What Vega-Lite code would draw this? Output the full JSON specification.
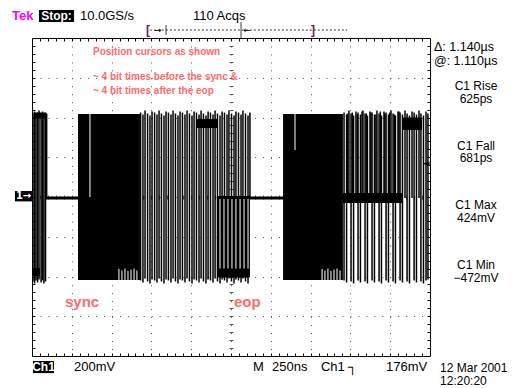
{
  "$schema": "https://vega.github.io/schema/vega-lite/v6.json",
  "width": 398,
  "height": 318,
  "autosize": {"type": "none"},
  "padding": {"left": 32, "top": 38, "right": 84, "bottom": 32},
  "background": "white",
  "config": {"view": {"stroke": "#000", "strokeWidth": 1}, "font": "Liberation Sans"},
  "resolve": {"axis": {"x": "independent", "y": "independent"}},
  "datasets": {
    "blocks": [
      {"t1": 0, "t2": 50, "v1": -357, "v2": -397},
      {"t1": 10, "t2": 85, "v1": 425, "v2": 395},
      {"t1": 289, "t2": 678, "v1": 418, "v2": -418},
      {"t1": 1030, "t2": 1162, "v1": 392, "v2": 347},
      {"t1": 1162, "t2": 1369, "v1": 5, "v2": -405},
      {"t1": 1577, "t2": 1953, "v1": 418, "v2": -418},
      {"t1": 2324, "t2": 2450, "v1": 400, "v2": 337},
      {"t1": 1953, "t2": 2330, "v1": 20, "v2": -30}
    ],
    "edges": [
      {"t": 6, "lo": -425, "hi": 420}, {"t": 16, "lo": -435, "hi": 430}, {"t": 25, "lo": -420, "hi": 415},
      {"t": 35, "lo": -430, "hi": 425}, {"t": 44, "lo": -415, "hi": 435}, {"t": 57, "lo": -430, "hi": 420},
      {"t": 66, "lo": -420, "hi": 430}, {"t": 75, "lo": -435, "hi": 415}, {"t": 85, "lo": -425, "hi": 425},
      {"t": 92, "lo": -5, "hi": 420},
      {"t": 682, "lo": -420, "hi": 425}, {"t": 697, "lo": -430, "hi": 415}, {"t": 710, "lo": -410, "hi": 435},
      {"t": 726, "lo": -425, "hi": 420}, {"t": 741, "lo": -435, "hi": 410}, {"t": 754, "lo": -415, "hi": 430},
      {"t": 770, "lo": -420, "hi": 425}, {"t": 785, "lo": -430, "hi": 415}, {"t": 798, "lo": -410, "hi": 435},
      {"t": 813, "lo": -425, "hi": 420}, {"t": 829, "lo": -435, "hi": 410}, {"t": 842, "lo": -415, "hi": 430},
      {"t": 857, "lo": -420, "hi": 425}, {"t": 873, "lo": -430, "hi": 415}, {"t": 886, "lo": -410, "hi": 435},
      {"t": 901, "lo": -425, "hi": 420}, {"t": 917, "lo": -435, "hi": 410}, {"t": 930, "lo": -415, "hi": 430},
      {"t": 945, "lo": -420, "hi": 425}, {"t": 961, "lo": -430, "hi": 415}, {"t": 974, "lo": -410, "hi": 435},
      {"t": 989, "lo": -425, "hi": 420}, {"t": 1005, "lo": -435, "hi": 410}, {"t": 1018, "lo": -415, "hi": 430},
      {"t": 1033, "lo": -420, "hi": 425}, {"t": 1049, "lo": -430, "hi": 415}, {"t": 1062, "lo": -410, "hi": 435},
      {"t": 1077, "lo": -425, "hi": 420}, {"t": 1093, "lo": -435, "hi": 410}, {"t": 1106, "lo": -415, "hi": 430},
      {"t": 1121, "lo": -420, "hi": 425}, {"t": 1137, "lo": -430, "hi": 415}, {"t": 1150, "lo": -410, "hi": 435},
      {"t": 1165, "lo": -425, "hi": 420}, {"t": 1181, "lo": -435, "hi": 410}, {"t": 1194, "lo": -415, "hi": 430},
      {"t": 1209, "lo": -420, "hi": 425}, {"t": 1225, "lo": -430, "hi": 415}, {"t": 1237, "lo": -410, "hi": 435},
      {"t": 1253, "lo": -425, "hi": 420}, {"t": 1269, "lo": -435, "hi": 410}, {"t": 1281, "lo": -415, "hi": 430},
      {"t": 1297, "lo": -420, "hi": 425}, {"t": 1313, "lo": -430, "hi": 415}, {"t": 1325, "lo": -410, "hi": 435},
      {"t": 1341, "lo": -425, "hi": 420}, {"t": 1357, "lo": -435, "hi": 410}, {"t": 1369, "lo": -5, "hi": 425},
      {"t": 1960, "lo": -420, "hi": 425}, {"t": 1976, "lo": -430, "hi": 415}, {"t": 1991, "lo": -5, "hi": 435},
      {"t": 2004, "lo": -425, "hi": 420}, {"t": 2020, "lo": -435, "hi": 410}, {"t": 2035, "lo": -5, "hi": 430},
      {"t": 2048, "lo": -420, "hi": 425}, {"t": 2063, "lo": -430, "hi": 415}, {"t": 2079, "lo": -5, "hi": 435},
      {"t": 2092, "lo": -425, "hi": 420}, {"t": 2107, "lo": -435, "hi": 410}, {"t": 2123, "lo": -5, "hi": 430},
      {"t": 2136, "lo": -420, "hi": 425}, {"t": 2151, "lo": -430, "hi": 415}, {"t": 2167, "lo": -5, "hi": 435},
      {"t": 2180, "lo": -425, "hi": 420}, {"t": 2195, "lo": -435, "hi": 410}, {"t": 2211, "lo": -5, "hi": 430},
      {"t": 2224, "lo": -420, "hi": 425}, {"t": 2239, "lo": -430, "hi": 415}, {"t": 2255, "lo": -5, "hi": 435},
      {"t": 2268, "lo": -425, "hi": 420}, {"t": 2283, "lo": -435, "hi": 410}, {"t": 2299, "lo": -5, "hi": 430},
      {"t": 2312, "lo": -420, "hi": 425}, {"t": 2327, "lo": -430, "hi": 415}, {"t": 2343, "lo": -5, "hi": 435},
      {"t": 2356, "lo": -425, "hi": 420}, {"t": 2371, "lo": -435, "hi": 410}, {"t": 2387, "lo": -5, "hi": 430},
      {"t": 2400, "lo": -420, "hi": 425}, {"t": 2415, "lo": -430, "hi": 415}, {"t": 2431, "lo": -5, "hi": 435},
      {"t": 2443, "lo": -425, "hi": 420}, {"t": 2459, "lo": -435, "hi": 410}, {"t": 2475, "lo": -420, "hi": 430},
      {"t": 2487, "lo": -415, "hi": 420},
      {"t": 1983, "lo": -5, "hi": 420}, {"t": 2012, "lo": -5, "hi": 425}, {"t": 2043, "lo": -5, "hi": 415},
      {"t": 2073, "lo": -5, "hi": 430}, {"t": 2100, "lo": -5, "hi": 420}, {"t": 2129, "lo": -5, "hi": 425},
      {"t": 2160, "lo": -5, "hi": 415}, {"t": 2188, "lo": -5, "hi": 430}, {"t": 2217, "lo": -5, "hi": 420},
      {"t": 2247, "lo": -5, "hi": 425}, {"t": 2276, "lo": -5, "hi": 415}, {"t": 2305, "lo": -5, "hi": 430}
    ],
    "flats": [
      {"t1": 88, "t2": 292, "v": -5},
      {"t1": 1369, "t2": 1580, "v": -5}
    ],
    "gaps": [
      {"t": 364, "lo": 0, "hi": 418},
      {"t": 546, "lo": -425, "hi": -362}, {"t": 565, "lo": -425, "hi": -370}, {"t": 584, "lo": -425, "hi": -360},
      {"t": 603, "lo": -425, "hi": -372}, {"t": 622, "lo": -425, "hi": -365}, {"t": 641, "lo": -425, "hi": -360},
      {"t": 659, "lo": -425, "hi": -370},
      {"t": 1181, "lo": -360, "hi": -10}, {"t": 1206, "lo": -360, "hi": -10}, {"t": 1231, "lo": -360, "hi": -10},
      {"t": 1256, "lo": -360, "hi": -10}, {"t": 1281, "lo": -360, "hi": -10}, {"t": 1307, "lo": -360, "hi": -10},
      {"t": 1332, "lo": -360, "hi": -10}, {"t": 1357, "lo": -360, "hi": -10},
      {"t": 1652, "lo": 236, "hi": 418},
      {"t": 1822, "lo": -425, "hi": -362}, {"t": 1840, "lo": -425, "hi": -370}, {"t": 1859, "lo": -425, "hi": -360},
      {"t": 1878, "lo": -425, "hi": -372}, {"t": 1897, "lo": -425, "hi": -365}, {"t": 1916, "lo": -425, "hi": -360},
      {"t": 1935, "lo": -425, "hi": -370}
    ],
    "header_lines": [
      {"t1": 740, "t2": 1980, "v1": 840, "v2": 840, "kind": "dotted"},
      {"t1": 1313, "t2": 1313, "v1": 880, "v2": 800, "kind": "solid"},
      {"t1": 842, "t2": 842, "v1": 865, "v2": 815, "kind": "solid"}
    ],
    "boxes": [
      {"t1": 44, "t2": 264, "v1": 941, "v2": 880},
      {"t1": 6, "t2": 138, "v1": -825, "v2": -886},
      {"t1": -107, "t2": 0, "v1": 30, "v2": -22}
    ],
    "inverse": [
      {"t": 154, "v": 911, "label": "Stop:"},
      {"t": 72, "v": -855, "label": "Ch1"}
    ],
    "plain_left": [
      {"t": 301, "v": 911, "label": "10.0GS/s"},
      {"t": 1011, "v": 911, "label": "110 Acqs"},
      {"t": 264, "v": -855, "label": "200mV"},
      {"t": 1388, "v": -855, "label": "M"},
      {"t": 1508, "v": -855, "label": "250ns"},
      {"t": 1815, "v": -855, "label": "Ch1"},
      {"t": 1985, "v": -855, "label": "┐"},
      {"t": 2224, "v": -855, "label": "176mV"}
    ],
    "readout": [
      {"t": 2525, "v": 757, "label": "Δ: 1.140µs"},
      {"t": 2525, "v": 684, "label": "@: 1.110µs"}
    ],
    "date": [
      {"t": 2563, "v": -860, "label": "12 Mar 2001"},
      {"t": 2563, "v": -926, "label": "12:20:20"}
    ],
    "panel": [
      {"t": 2789, "v": 560, "label": "C1 Rise"},
      {"t": 2789, "v": 491, "label": "625ps"},
      {"t": 2789, "v": 259, "label": "C1 Fall"},
      {"t": 2789, "v": 194, "label": "681ps"},
      {"t": 2789, "v": -38, "label": "C1 Max"},
      {"t": 2789, "v": -106, "label": "424mV"},
      {"t": 2789, "v": -340, "label": "C1 Min"},
      {"t": 2789, "v": -408, "label": "−472mV"}
    ],
    "brackets": [
      {"t": 729, "v": 840, "label": "["},
      {"t": 1765, "v": 840, "label": "]"}
    ],
    "arrows": [
      {"t": 790, "v": 842, "label": "→"},
      {"t": 1350, "v": 842, "label": "←"},
      {"t": 2475, "v": 171, "label": "◄"}
    ],
    "notes": [
      {"t": 383, "v": 730, "label": "Position cursors as shown"},
      {"t": 383, "v": 604, "label": "~ 4 bit times before the sync &"},
      {"t": 383, "v": 535, "label": "~ 4 bit times after the eop"}
    ],
    "marks": [
      {"t": 207, "v": -530, "label": "sync"},
      {"t": 1269, "v": -530, "label": "eop"}
    ]
  },
  "layer": [
    {
      "data": {"name": "blocks"},
      "mark": {"type": "rect", "color": "#000"},
      "encoding": {
        "x": {"field": "t1", "type": "quantitative", "scale": {"domain": [0, 2500], "nice": false, "zero": false},
          "axis": {"orient": "bottom", "values": [250, 500, 750, 1000, 1250, 1500, 1750, 2000, 2250], "grid": true, "gridDash": [1, 6.96], "gridColor": "#555", "gridOpacity": 1, "ticks": false, "labels": false, "domain": false, "title": null}},
        "x2": {"field": "t2"},
        "y": {"field": "v1", "type": "quantitative", "scale": {"domain": [-800, 800], "nice": false, "zero": false},
          "axis": {"orient": "left", "values": [-600, -400, -200, 0, 200, 400, 600], "grid": true, "gridDash": [1, 6.95], "gridColor": "#555", "gridOpacity": 1, "ticks": false, "labels": false, "domain": false, "title": null}},
        "y2": {"field": "v2"}
      }
    },
    {
      "data": {"name": "edges"},
      "mark": {"type": "rule", "color": "#000", "strokeWidth": 1.5},
      "encoding": {
        "x": {"field": "t", "type": "quantitative", "scale": {"domain": [0, 2500], "nice": false, "zero": false},
          "axis": {"orient": "bottom", "offset": -3, "values": [50,100,150,200,250,300,350,400,450,500,550,600,650,700,750,800,850,900,950,1000,1050,1100,1150,1200,1250,1300,1350,1400,1450,1500,1550,1600,1650,1700,1750,1800,1850,1900,1950,2000,2050,2100,2150,2200,2250,2300,2350,2400,2450], "ticks": true, "tickSize": 3, "tickColor": "#000", "labels": false, "domain": false, "grid": false, "title": null}},
        "y": {"field": "lo", "type": "quantitative", "scale": {"domain": [-800, 800], "nice": false, "zero": false},
          "axis": {"orient": "left", "offset": -3, "values": [-760,-720,-680,-640,-600,-560,-520,-480,-440,-400,-360,-320,-280,-240,-200,-160,-120,-80,-40,0,40,80,120,160,200,240,280,320,360,400,440,480,520,560,600,640,680,720,760], "ticks": true, "tickSize": 3, "tickColor": "#000", "labels": false, "domain": false, "grid": false, "title": null}},
        "y2": {"field": "hi"}
      }
    },
    {
      "data": {"name": "flats"},
      "mark": {"type": "rule", "color": "#000", "strokeWidth": 3},
      "encoding": {
        "x": {"field": "t1", "type": "quantitative", "scale": {"domain": [0, 2500], "nice": false, "zero": false},
          "axis": {"orient": "top", "offset": -3, "values": [50,100,150,200,250,300,350,400,450,500,550,600,650,700,750,800,850,900,950,1000,1050,1100,1150,1200,1250,1300,1350,1400,1450,1500,1550,1600,1650,1700,1750,1800,1850,1900,1950,2000,2050,2100,2150,2200,2250,2300,2350,2400,2450], "ticks": true, "tickSize": 3, "tickColor": "#000", "labels": false, "domain": false, "grid": false, "title": null}},
        "x2": {"field": "t2"},
        "y": {"field": "v", "type": "quantitative", "scale": {"domain": [-800, 800], "nice": false, "zero": false},
          "axis": {"orient": "right", "offset": -3, "values": [-760,-720,-680,-640,-600,-560,-520,-480,-440,-400,-360,-320,-280,-240,-200,-160,-120,-80,-40,0,40,80,120,160,200,240,280,320,360,400,440,480,520,560,600,640,680,720,760], "ticks": true, "tickSize": 3, "tickColor": "#000", "labels": false, "domain": false, "grid": false, "title": null}}
      }
    },
    {
      "data": {"name": "gaps"},
      "mark": {"type": "rule", "color": "#fff", "strokeWidth": 1},
      "encoding": {
        "x": {"field": "t", "type": "quantitative", "scale": {"domain": [0, 2500], "nice": false, "zero": false},
          "axis": {"orient": "bottom", "offset": -161, "values": [50,100,150,200,250,300,350,400,450,500,550,600,650,700,750,800,850,900,950,1000,1050,1100,1150,1200,1250,1300,1350,1400,1450,1500,1550,1600,1650,1700,1750,1800,1850,1900,1950,2000,2050,2100,2150,2200,2250,2300,2350,2400,2450], "ticks": true, "tickSize": 4, "tickColor": "#555", "labels": false, "domain": false, "grid": false, "title": null}},
        "y": {"field": "lo", "type": "quantitative", "scale": {"domain": [-800, 800], "nice": false, "zero": false},
          "axis": {"orient": "left", "offset": -201, "values": [-760,-720,-680,-640,-600,-560,-520,-480,-440,-400,-360,-320,-280,-240,-200,-160,-120,-80,-40,0,40,80,120,160,200,240,280,320,360,400,440,480,520,560,600,640,680,720,760], "ticks": true, "tickSize": 4, "tickColor": "#555", "labels": false, "domain": false, "grid": false, "title": null}},
        "y2": {"field": "hi"}
      }
    },
    {
      "mark": {"type": "rule", "color": "#000", "strokeWidth": 1, "strokeDash": [7, 4]},
      "encoding": {
        "x": {"datum": 270, "type": "quantitative", "scale": {"domain": [0, 2500], "nice": false, "zero": false}, "axis": null}
      }
    },
    {
      "mark": {"type": "rule", "color": "#999", "strokeWidth": 2},
      "encoding": {
        "x": {"datum": 1416, "type": "quantitative", "scale": {"domain": [0, 2500], "nice": false, "zero": false}, "axis": null}
      }
    },
    {
      "data": {"name": "header_lines"},
      "mark": {"type": "rule", "color": "#333", "strokeWidth": 1},
      "encoding": {
        "x": {"field": "t1", "type": "quantitative", "scale": {"domain": [0, 2500], "nice": false, "zero": false}, "axis": null},
        "x2": {"field": "t2"},
        "y": {"field": "v1", "type": "quantitative", "scale": {"domain": [-800, 800], "nice": false, "zero": false}, "axis": null},
        "y2": {"field": "v2"},
        "strokeDash": {"field": "kind", "type": "nominal", "scale": {"domain": ["dotted", "solid"], "range": [[2, 2], [1, 0]]}, "legend": null}
      }
    },
    {
      "data": {"name": "boxes"},
      "mark": {"type": "rect", "color": "#000"},
      "encoding": {
        "x": {"field": "t1", "type": "quantitative", "scale": {"domain": [0, 2500], "nice": false, "zero": false}, "axis": null},
        "x2": {"field": "t2"},
        "y": {"field": "v1", "type": "quantitative", "scale": {"domain": [-800, 800], "nice": false, "zero": false}, "axis": null},
        "y2": {"field": "v2"}
      }
    },
    {
      "data": {"name": "inverse"},
      "mark": {"type": "text", "color": "#fff", "fontSize": 12, "fontWeight": "bold", "align": "center", "baseline": "middle"},
      "encoding": {
        "x": {"field": "t", "type": "quantitative", "scale": {"domain": [0, 2500], "nice": false, "zero": false}, "axis": null},
        "y": {"field": "v", "type": "quantitative", "scale": {"domain": [-800, 800], "nice": false, "zero": false}, "axis": null},
        "text": {"field": "label"}
      }
    },
    {
      "data": {"values": [{"t": -53, "v": 4, "label": "1→"}]},
      "mark": {"type": "text", "color": "#fff", "fontSize": 10, "fontWeight": "bold", "font": "DejaVu Sans", "align": "center", "baseline": "middle"},
      "encoding": {
        "x": {"field": "t", "type": "quantitative", "scale": {"domain": [0, 2500], "nice": false, "zero": false}, "axis": null},
        "y": {"field": "v", "type": "quantitative", "scale": {"domain": [-800, 800], "nice": false, "zero": false}, "axis": null},
        "text": {"field": "label"}
      }
    },
    {
      "data": {"name": "plain_left"},
      "mark": {"type": "text", "color": "#000", "fontSize": 13, "align": "left", "baseline": "middle"},
      "encoding": {
        "x": {"field": "t", "type": "quantitative", "scale": {"domain": [0, 2500], "nice": false, "zero": false}, "axis": null},
        "y": {"field": "v", "type": "quantitative", "scale": {"domain": [-800, 800], "nice": false, "zero": false}, "axis": null},
        "text": {"field": "label"}
      }
    },
    {
      "data": {"name": "readout"},
      "mark": {"type": "text", "color": "#000", "fontSize": 12.5, "align": "left", "baseline": "middle"},
      "encoding": {
        "x": {"field": "t", "type": "quantitative", "scale": {"domain": [0, 2500], "nice": false, "zero": false}, "axis": null},
        "y": {"field": "v", "type": "quantitative", "scale": {"domain": [-800, 800], "nice": false, "zero": false}, "axis": null},
        "text": {"field": "label"}
      }
    },
    {
      "data": {"name": "date"},
      "mark": {"type": "text", "color": "#000", "fontSize": 12, "align": "left", "baseline": "middle"},
      "encoding": {
        "x": {"field": "t", "type": "quantitative", "scale": {"domain": [0, 2500], "nice": false, "zero": false}, "axis": null},
        "y": {"field": "v", "type": "quantitative", "scale": {"domain": [-800, 800], "nice": false, "zero": false}, "axis": null},
        "text": {"field": "label"}
      }
    },
    {
      "data": {"name": "panel"},
      "mark": {"type": "text", "color": "#000", "fontSize": 12, "align": "center", "baseline": "middle"},
      "encoding": {
        "x": {"field": "t", "type": "quantitative", "scale": {"domain": [0, 2500], "nice": false, "zero": false}, "axis": null},
        "y": {"field": "v", "type": "quantitative", "scale": {"domain": [-800, 800], "nice": false, "zero": false}, "axis": null},
        "text": {"field": "label"}
      }
    },
    {
      "data": {"values": [{"t": -126, "v": 911, "label": "Tek"}]},
      "mark": {"type": "text", "color": "#ff00ff", "fontSize": 13, "fontWeight": "bold", "align": "left", "baseline": "middle"},
      "encoding": {
        "x": {"field": "t", "type": "quantitative", "scale": {"domain": [0, 2500], "nice": false, "zero": false}, "axis": null},
        "y": {"field": "v", "type": "quantitative", "scale": {"domain": [-800, 800], "nice": false, "zero": false}, "axis": null},
        "text": {"field": "label"}
      }
    },
    {
      "data": {"name": "brackets"},
      "mark": {"type": "text", "color": "#602060", "fontSize": 12, "fontWeight": "bold", "align": "center", "baseline": "middle"},
      "encoding": {
        "x": {"field": "t", "type": "quantitative", "scale": {"domain": [0, 2500], "nice": false, "zero": false}, "axis": null},
        "y": {"field": "v", "type": "quantitative", "scale": {"domain": [-800, 800], "nice": false, "zero": false}, "axis": null},
        "text": {"field": "label"}
      }
    },
    {
      "data": {"name": "arrows"},
      "mark": {"type": "text", "color": "#000", "fontSize": 9, "font": "DejaVu Sans", "align": "center", "baseline": "middle"},
      "encoding": {
        "x": {"field": "t", "type": "quantitative", "scale": {"domain": [0, 2500], "nice": false, "zero": false}, "axis": null},
        "y": {"field": "v", "type": "quantitative", "scale": {"domain": [-800, 800], "nice": false, "zero": false}, "axis": null},
        "text": {"field": "label"}
      }
    },
    {
      "data": {"name": "notes"},
      "mark": {"type": "text", "color": "#ff6b6b", "fontSize": 10, "fontWeight": "bold", "align": "left", "baseline": "middle"},
      "encoding": {
        "x": {"field": "t", "type": "quantitative", "scale": {"domain": [0, 2500], "nice": false, "zero": false}, "axis": null},
        "y": {"field": "v", "type": "quantitative", "scale": {"domain": [-800, 800], "nice": false, "zero": false}, "axis": null},
        "text": {"field": "label"}
      }
    },
    {
      "data": {"name": "marks"},
      "mark": {"type": "text", "color": "#ff6b6b", "fontSize": 15, "fontWeight": "bold", "align": "left", "baseline": "middle"},
      "encoding": {
        "x": {"field": "t", "type": "quantitative", "scale": {"domain": [0, 2500], "nice": false, "zero": false}, "axis": null},
        "y": {"field": "v", "type": "quantitative", "scale": {"domain": [-800, 800], "nice": false, "zero": false}, "axis": null},
        "text": {"field": "label"}
      }
    }
  ]
}
